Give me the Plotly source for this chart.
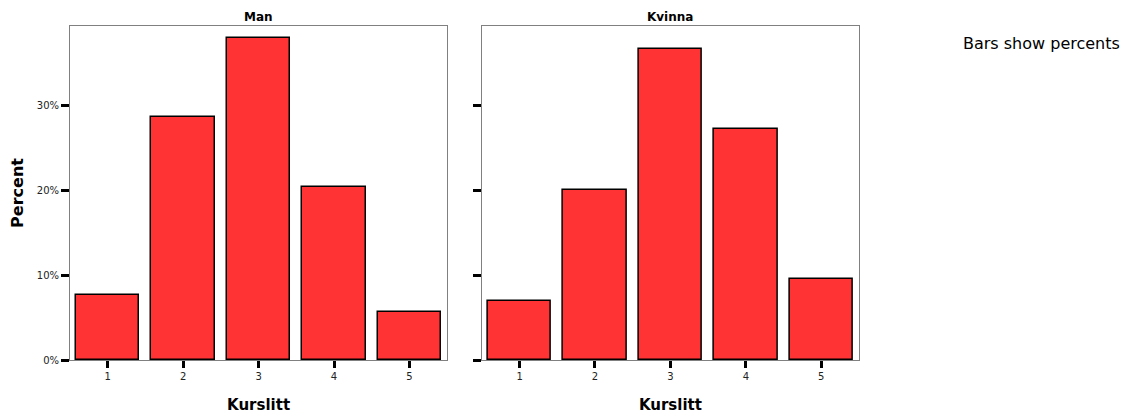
import plotly.graph_objects as go

categories = [1, 2, 3, 4, 5]
man_pct = [7.7, 28.6, 37.9, 20.4, 5.6]
kvinna_pct = [7.0, 20.0, 36.6, 27.2, 9.5]
panel_titles = ["Man", "Kvinna"]
y_tickvals = [0, 10, 20, 30]
y_ticktext = ["0%", "10%", "20%", "30%"]

FONT = "DejaVu Sans"
BAR_COLOR = "#FF3333"

# page body has an 8px margin, so the figure is drawn 8px in from the window edge
W, H = 1120, 407
L, R, T, B = 62, 269, 18, 55

fig = go.Figure()
fig.add_trace(go.Bar(x=categories, y=man_pct, xaxis="x", yaxis="y",
                     marker=dict(color=BAR_COLOR, line=dict(color="black", width=1.5)),
                     width=0.84, showlegend=False))
fig.add_trace(go.Bar(x=categories, y=kvinna_pct, xaxis="x2", yaxis="y2",
                     marker=dict(color=BAR_COLOR, line=dict(color="black", width=1.5)),
                     width=0.84, showlegend=False))

xcommon = dict(range=[0.5, 5.5], tickvals=categories, ticks="outside", ticklen=7,
               tickwidth=3, tickcolor="black", showline=True, linecolor="#808080",
               linewidth=1, mirror=True, showgrid=False, zeroline=False,
               tickfont=dict(family=FONT, size=10, color="#222"),
               title=dict(text="<b>Kurslitt</b>", font=dict(family=FONT, size=15, color="black"),
                          standoff=18))
ycommon = dict(range=[0, 39.3], tickvals=y_tickvals, ticktext=y_ticktext,
               tickmode="array", ticks="outside",
               ticklen=8, tickwidth=3, tickcolor="black", showline=True,
               linecolor="#808080", linewidth=1, mirror=True, showgrid=False,
               zeroline=False, tickfont=dict(family=FONT, size=10, color="#222"))

plot_w = W - L - R
plot_h = H - T - B

fig.update_layout(
    width=W, height=H,
    margin=dict(l=L, r=R, t=T, b=B, autoexpand=False),
    paper_bgcolor="white", plot_bgcolor="white",
    font=dict(family=FONT),
    bargap=0,
    xaxis=dict(domain=[0, 0.478], anchor="y", **xcommon),
    xaxis2=dict(domain=[0.522, 1.0], anchor="y2", **xcommon),
    yaxis=dict(anchor="x", title=dict(text="<b>Percent</b>",
               font=dict(family=FONT, size=16, color="black"), standoff=22), **ycommon),
    yaxis2=dict(anchor="x2", matches="y", showticklabels=False,
                **{k: v for k, v in ycommon.items() if k not in ("tickfont",)}),
    annotations=[
        dict(text="<b>" + panel_titles[0] + "</b>", x=0.239, y=1.0, xref="paper", yref="paper",
             xanchor="center", yanchor="bottom", showarrow=False,
             font=dict(family=FONT, size=12, color="black")),
        dict(text="<b>" + panel_titles[1] + "</b>", x=0.761, y=1.0, xref="paper", yref="paper",
             xanchor="center", yanchor="bottom", showarrow=False,
             font=dict(family=FONT, size=12, color="black")),
        dict(text="Bars show percents", x=(1114 - L) / plot_w, y=(H - B - 36) / plot_h,
             xref="paper", yref="paper", xanchor="right", yanchor="middle",
             showarrow=False, font=dict(family=FONT, size=16, color="black")),
    ],
)

fig.write_html("out.html")
